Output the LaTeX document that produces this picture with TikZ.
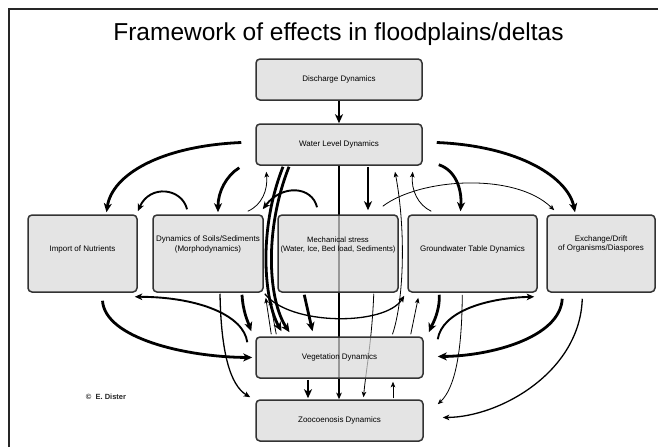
\documentclass[tikz,border=0pt]{standalone}
\usepackage{fontspec}
\setmainfont{Liberation Sans}
\usetikzlibrary{arrows.meta,calc}
\definecolor{boxfill}{HTML}{D9D9D9}
\definecolor{boxline}{HTML}{333333}
\pgfdeclarelayer{bg}
\pgfsetlayers{bg,main}
\tikzset{
  box/.style={draw=boxline, line width=1.5pt, rounded corners=4pt, fill=boxfill, fill opacity=0.7, text opacity=1, inner sep=0pt, font=\fontsize{8}{9}\selectfont, align=center},
  btxt/.style={font=\fontsize{8}{9.2}\selectfont, align=center, inner sep=0pt},
  athick/.style={line width=2.8pt, -{Stealth[length=9pt,width=8pt,inset=2.5pt]}},
  amed/.style={line width=1.9pt, -{Stealth[length=7.5pt,width=6.5pt,inset=2pt]}},
  amid/.style={line width=1.3pt, -{Stealth[length=6.5pt,width=5.5pt,inset=1.6pt]}},
  athin/.style={line width=0.8pt, -{Stealth[length=5.5pt,width=4.5pt,inset=1.3pt]}}
}
\begin{document}
\begin{tikzpicture}[x=1pt,y=-1pt]
\useasboundingbox (0,0) rectangle (658,447);
\draw[line width=1.8pt, black!85] (9,447) -- (9,9) -- (658,9);

\node[font=\fontsize{24.5}{28}\selectfont] (title) at (338.5,34) {Framework of effects in floodplains/deltas};

% boxes
\node[box, minimum width=166pt, minimum height=41pt] (dis) at (339,79.5) {Discharge Dynamics};
\node[box, minimum width=166pt, minimum height=41pt] (wl) at (339,144.5) {Water Level Dynamics};
\node[box, minimum width=109pt, minimum height=77pt] (imp) at (82.5,253.5) {};
\node[box, minimum width=110pt, minimum height=77pt] (soil) at (208,253.5) {};
\node[box, minimum width=120pt, minimum height=77pt] (mech) at (338,253.5) {};
\node[box, minimum width=129pt, minimum height=77pt] (gw) at (472.5,253.5) {};
\node[box, minimum width=108pt, minimum height=77pt] (exc) at (601,253.5) {};
\node[box, minimum width=167pt, minimum height=41pt] (veg) at (339.5,357.5) {Vegetation Dynamics};
\node[box, minimum width=167pt, minimum height=41pt] (zoo) at (339.5,420.5) {Zoocoenosis Dynamics};

\node[btxt] (impt) at (82.5,249) {Import of Nutrients};
\node[btxt] (soilt) at (208,244.5) {Dynamics of Soils/Sediments\\(Morphodynamics)};
\node[btxt, font=\fontsize{7.7}{9.2}\selectfont] (mecht) at (338,245) {Mechanical stress\\(Water, Ice, Bed load, Sediments)};
\node[btxt] (gwt) at (472.5,249) {Groundwater Table Dynamics};
\node[btxt] (exct) at (601,244) {Exchange/Drift\\of Organisms/Diaspores};

\node[font=\fontsize{7.5}{9}\selectfont\bfseries, text=black!85] (copy) at (106,397) {©\ \ E. Dister};

\begin{pgfonlayer}{bg}
\fill[white] (0,0) rectangle (658,447);
% top
\draw[athick] (dis.south) -- (wl.north);
\draw[athick] ($(wl.west)+(-14,-2)$) .. controls (160,146) and (112,175) .. ($(imp.north)+(24,-2)$);
\draw[athick] ($(wl.east)+(14,-2)$) .. controls (520,146) and (568,178) .. ($(exc.north)+(-26,-2)$);
\draw[athick] ($(wl.south west)+(-16,2)$) .. controls (226,176) and (218,192) .. ($(soil.north)+(10,-2)$);
\draw[amed] ($(soil.north)+(-21,-5)$) .. controls (182,188) and (150,184) .. ($(imp.north east)+(0,-3)$);
\draw[athin] ($(soil.north east)+(-16,-3)$) .. controls (262,205) and (268,190) .. ($(wl.south west)+(11,6)$);
\draw[amed] ($(mech.north)+(-21,-7)$) .. controls (312,186) and (282,184) .. ($(soil.north east)+(-1,-5)$);
\draw[athick] ($(wl.south)+(-56,1)$) .. controls (258,230) and (264,300) .. ($(veg.north)+(-58,-5)$);
\draw[athick] ($(wl.south)+(-50,1)$) .. controls (264,230) and (268,300) .. ($(veg.north)+(-50,-4)$);
\draw[athick] ($(wl.south)+(29,1)$) -- ($(mech.north)+(30,-4)$);
\draw[amid] (wl.south) -- (wl.south |- zoo.north);
\draw[athin] ($(mech.north east)+(-16,-8)$) .. controls (420,178) and (515,172) .. ($(exc.north west)+(8,-4)$);
\draw[athin] ($(veg.north)+(53,-2)$) .. controls (404,300) and (406,230) .. ($(wl.south)+(56,6)$);
\draw[athin] ($(gw.north west)+(24,-3)$) .. controls (418,205) and (411,190) .. ($(wl.south east)+(-10,6)$);
\draw[athick] ($(wl.south east)+(16,-1)$) .. controls (455,170) and (462,188) .. ($(gw.north)+(-12,-3)$);
% bottom
\draw[athick] ($(imp.south)+(20,8)$) .. controls (105,338) and (185,357) .. ($(veg.west)+(-3,0)$);
\draw[amed] ($(veg.north west)+(-8,6)$) .. controls (244,316) and (200,297) .. ($(imp.south east)+(-3,4)$);
\draw[amid] ($(soil.south)+(12,1)$) .. controls (221,352) and (230,385) .. ($(zoo.north west)+(-5,-2)$);
\draw[athick] ($(soil.south)+(34,2)$) .. controls (243,312) and (248,322) .. ($(veg.north west)+(-4,-5)$);
\draw[athin] ($(veg.north west)+(16,-2)$) -- ($(soil.south east)+(2,5)$);
\draw[athin] ($(veg.north west)+(21,-2)$) -- ($(soil.south east)+(6,7)$);
\draw[amid] ($(soil.south east)+(1,1)$) .. controls (290,326) and (385,326) .. ($(gw.south west)+(-3,3)$);
\draw[athick] ($(mech.south west)+(27,2)$) -- ($(veg.north)+(-27,-5)$);
\draw[athin] ($(mech.south east)+(-25,1)$) .. controls (372,340) and (366,370) .. ($(zoo.north)+(24,-2)$);
\draw[athin] ($(veg.north east)+(-13,-2)$) -- ($(gw.south west)+(11,5)$);
\draw[athick] ($(gw.south west)+(32,2)$) .. controls (440,312) and (432,325) .. ($(veg.north east)+(5,-4)$);
\draw[athin] ($(gw.south west)+(55,2)$) .. controls (462,352) and (455,388) .. ($(zoo.north east)+(14,5)$);
\draw[amed] ($(veg.north east)+(14,3)$) .. controls (442,312) and (485,298) .. ($(exc.south west)+(-12,4)$);
\draw[athick] ($(exc.south west)+(16,6)$) .. controls (560,338) and (490,356) .. ($(veg.east)+(14,-1)$);
\draw[amid] ($(exc.south west)+(36,6)$) .. controls (580,372) and (500,417) .. ($(zoo.east)+(19,-3)$);
\draw[athick] ($(veg.south)+(-31.5,1)$) -- ($(zoo.north)+(-31.5,-1)$);
\draw[athin] ($(zoo.north)+(53.5,-1)$) -- ($(veg.south)+(53.5,3)$);
\end{pgfonlayer}
\end{tikzpicture}
\end{document}
